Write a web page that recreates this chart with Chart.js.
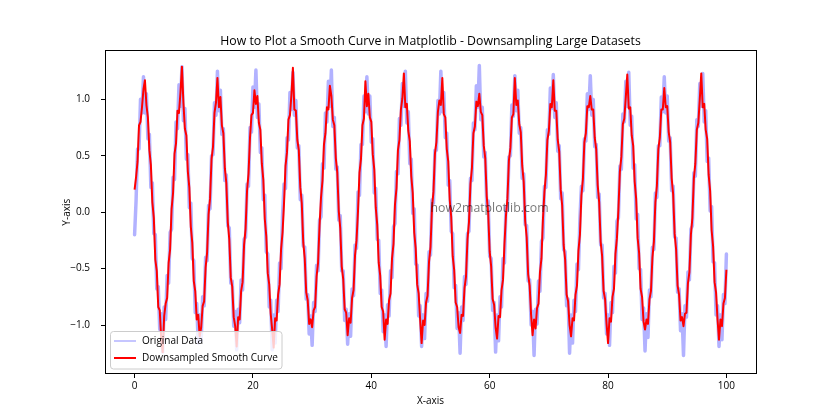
<!DOCTYPE html>
<html><head><meta charset="utf-8">
<script src="https://cdn.jsdelivr.net/npm/chart.js@4"></script>
<style>html,body{margin:0;padding:0;background:#fff}canvas{display:block}</style>
</head><body>
<canvas id="c" width="840" height="420"></canvas>
<script>
// sample grid of both series (x from 0 to 100)
const xStart = 0, xStep = 0.25;

const originalY = [
-0.20,0.10,0.56,0.56,1.00,0.88,1.20,0.88,1.05,0.65,0.69,0.22,0.26,-0.19,-0.20,-0.68,-0.66,-1.04,-0.90,-1.24,-0.84,-0.95,-0.56,-0.63,-0.18,
-0.15,0.31,0.29,0.80,0.74,1.13,0.94,1.29,0.81,0.92,0.47,0.51,0.04,0.08,-0.41,-0.43,-0.89,-0.81,-1.16,-0.91,-1.14,-0.75,-0.83,-0.40,-0.43,
0.06,0.03,0.50,0.51,0.97,0.86,1.25,0.90,1.08,0.69,0.74,0.28,0.33,-0.12,-0.14,-0.63,-0.61,-1.01,-0.88,-1.22,-0.86,-0.98,-0.60,-0.69,-0.24,
-0.22,0.25,0.23,0.75,0.71,1.11,0.93,1.26,0.84,0.96,0.53,0.57,0.11,0.15,-0.35,-0.37,-0.84,-0.78,-1.22,-0.91,-1.16,-0.78,-0.88,-0.45,-0.50,-0.03,
0.25,0.21,0.66,0.64,1.06,0.91,1.24,0.86,0.99,0.57,0.59,0.11,0.15,-0.30,-0.31,-0.77,-0.73,-1.08,-0.92,-1.18,-0.80,-0.88,-0.47,-0.52,-0.07,
-0.04,0.43,0.39,0.88,0.80,1.16,0.94,1.26,0.76,0.84,0.38,0.40,-0.07,-0.03,-0.52,-0.52,-0.96,-0.86,-1.17,-0.90,-1.10,-0.68,-0.74,-0.29,-0.32,
0.18,0.15,0.60,0.60,1.03,0.89,1.20,0.87,1.03,0.62,0.65,0.17,0.21,-0.24,-0.25,-0.72,-0.69,-1.06,-0.91,-1.19,-0.82,-0.92,-0.52,-0.58,-0.13,
-0.10,0.36,0.34,0.83,0.77,1.14,0.94,1.25,0.79,0.89,0.43,0.47,-0.01,0.03,-0.46,-0.47,-0.92,-0.83,-1.19,-0.91,-1.12,-0.72,-0.79,-0.35,-0.38,
0.11,0.08,0.55,0.55,0.99,0.87,1.25,0.89,1.06,0.66,0.70,0.24,0.28,-0.17,-0.19,-0.67,-0.65,-1.03,-0.89,-1.25,-0.84,-0.96,-0.57,-0.64,-0.19,
-0.17,0.30,0.28,0.79,0.73,1.12,0.93,1.30,0.82,0.93,0.49,0.53,0.06,0.10,-0.39,-0.41,-0.87,-0.80,-1.24,-0.91,-1.14,-0.75,-0.84,-0.41,-0.45,
0.05,0.02,0.49,0.50,0.95,0.85,1.21,0.90,1.08,0.70,0.75,0.30,0.34,-0.11,-0.12,-0.61,-0.60,-1.00,-0.88,-1.27,-0.86,-0.99,-0.61,-0.70,-0.26,
-0.23,0.23,0.22,0.73,0.69,1.10,0.92,1.22,0.84,0.97,0.54,0.59,0.12,0.17,-0.33,-0.35,-0.83,-0.77,-1.25,-0.91,-1.16,-0.78,-0.88,-0.46,-0.51,-0.05,
0.23,0.19,0.65,0.63,1.05,0.91,1.21,0.86,1.00,0.58,0.60,0.13,0.16,-0.29,-0.29,-0.76,-0.72,-1.08,-0.91,-1.18,-0.80,-0.89,-0.48,-0.54,-0.08,
-0.05,0.41,0.38,0.87,0.80,1.16,0.94,1.24,0.77,0.85,0.39,0.42,-0.06,-0.02,-0.50,-0.51,-0.95,-0.85,-1.23,-0.90,-1.11,-0.69,-0.75,-0.31,-0.33,
0.17,0.13,0.59,0.59,1.02,0.89,1.20,0.88,1.03,0.63,0.66,0.19,0.23,-0.22,-0.23,-0.71,-0.68,-1.05,-0.90,-1.27,-0.83,-0.93,-0.53,-0.60,-0.15,
-0.12,0.35,0.32,0.82,0.76,1.14,0.94,1.23,0.80,0.90,0.45,0.48,0.01,0.05,-0.44,-0.45,-0.91,-0.83,-1.19,-0.91,-1.13,-0.73,-0.81,-0.37
];

const smoothY = [
0.20,0.31,0.45,0.77,0.80,0.93,1.09,1.17,0.95,0.84,0.55,0.42,0.09,-0.05,-0.42,-0.52,-0.84,-0.87,-1.12,-1.24,-0.92,-0.81,-0.76,-0.45,-0.33,
0.03,0.17,0.52,0.61,0.90,0.88,1.06,1.29,0.97,0.74,0.68,0.36,0.22,-0.13,-0.27,-0.61,-0.70,-0.95,-0.91,-1.10,-1.02,-0.83,-0.79,-0.49,-0.36,
-0.02,0.12,0.47,0.58,0.88,0.97,1.19,0.93,1.02,0.77,0.70,0.39,0.26,-0.09,-0.24,-0.58,-0.66,-0.93,-1.01,-1.19,-0.93,-0.95,-0.70,-0.62,-0.29,
-0.15,0.19,0.34,0.66,0.86,0.88,1.08,0.96,1.03,0.79,0.73,0.43,0.29,-0.06,-0.21,-0.54,-0.64,-0.90,-1.04,-1.20,-0.94,-0.96,-0.73,-0.64,-0.33,-0.18,
0.08,0.41,0.53,0.82,0.86,1.04,1.28,0.91,0.90,0.64,0.55,0.22,0.08,-0.27,-0.41,-0.71,-0.78,-0.99,-0.95,-1.02,-0.87,-0.84,-0.57,-0.45,-0.12,
0.13,0.28,0.60,0.70,0.93,0.91,1.12,1.03,0.82,0.77,0.48,0.35,0.01,-0.14,-0.48,-0.59,-0.86,-0.89,-1.09,-0.94,-0.98,-0.76,-0.69,-0.38,-0.25,
0.01,0.35,0.47,0.77,0.83,1.16,0.94,1.05,0.84,0.80,0.51,0.38,0.04,-0.11,-0.45,-0.56,-0.84,-0.88,-1.13,-0.95,-0.99,-0.78,-0.72,-0.41,-0.28,
0.07,0.21,0.55,0.64,0.91,1.01,1.23,0.93,0.96,0.72,0.63,0.32,0.17,-0.18,-0.32,-0.64,-0.72,-0.95,-1.16,-0.96,-1.00,-0.80,-0.74,-0.44,-0.31,
0.04,0.18,0.52,0.62,0.89,0.99,0.95,1.19,0.87,0.84,0.56,0.45,0.11,-0.04,-0.39,-0.51,-0.80,-0.84,-1.02,-1.07,-0.91,-0.92,-0.67,-0.57,-0.24,
-0.09,0.25,0.39,0.70,0.76,0.98,0.94,1.05,0.89,0.86,0.59,0.48,0.14,-0.01,-0.35,-0.48,-0.77,-0.82,-1.02,-1.12,-0.92,-0.93,-0.69,-0.60,-0.28,
-0.03,0.12,0.46,0.57,0.84,0.87,1.19,0.95,0.99,0.78,0.71,0.41,0.27,-0.08,-0.22,-0.55,-0.65,-0.91,-1.09,-0.95,-1.03,-0.85,-0.81,-0.53,-0.41,
-0.06,0.18,0.33,0.64,0.72,0.96,0.93,1.17,0.90,0.90,0.64,0.54,0.20,0.06,-0.29,-0.42,-0.73,-0.79,-1.00,-1.10,-0.94,-0.96,-0.73,-0.65,-0.34,-0.20,
0.15,0.29,0.62,0.70,0.94,0.93,1.03,0.91,0.91,0.66,0.56,0.24,0.09,-0.26,-0.39,-0.70,-0.77,-0.99,-1.16,-0.94,-0.97,-0.75,-0.68,-0.37,-0.23,
0.02,0.36,0.49,0.78,0.83,1.02,1.22,0.92,0.93,0.68,0.59,0.27,0.12,-0.23,-0.36,-0.68,-0.75,-0.97,-1.04,-0.95,-0.99,-0.77,-0.70,-0.40,-0.26,
0.09,0.23,0.56,0.66,0.91,0.91,1.10,0.93,0.94,0.71,0.62,0.30,0.16,-0.19,-0.33,-0.65,-0.73,-0.96,-0.93,-1.01,-0.90,-0.89,-0.63,-0.53,-0.20,
-0.05,0.30,0.43,0.73,0.79,1.00,1.23,0.93,0.96,0.73,0.65,0.33,0.19,-0.16,-0.30,-0.62,-0.71,-0.95,-1.13,-0.95,-1.01,-0.81,-0.76,-0.51
];

const seriesNames = ['Original Data', 'Downsampled Smooth Curve'];
const xTicks = [0, 20, 40, 60, 80, 100];
const xTickLabels = ['0', '20', '40', '60', '80', '100'];
const yTicks = [-1.0, -0.5, 0.0, 0.5, 1.0];
const yTickLabels = ['\u22121.0', '\u22120.5', '0.0', '0.5', '1.0'];
const titleText = 'How to Plot a Smooth Curve in Matplotlib - Downsampling Large Datasets';
const xTitle = 'X-axis';
const yTitle = 'Y-axis';
const watermark = 'how2matplotlib.com';

const FONT = "'Open Sans', 'Noto Sans', 'DejaVu Sans', sans-serif";
const BLUE = 'rgba(0,0,255,0.3)';
const RED = '#ff0000';

const toPoints = ys => ys.map((y, i) => ({ x: xStart + i * xStep, y: y }));

const framePlugin = {
  id: 'frame',
  afterDraw(chart) {
    const { ctx, chartArea: a } = chart;
    ctx.save();
    // title centred over the axes
    ctx.font = '12.3px ' + FONT;
    ctx.fillStyle = '#000';
    ctx.textAlign = 'center';
    ctx.textBaseline = 'middle';
    ctx.fillText(titleText, (a.left + a.right) / 2, 41);
    // watermark (axes centre, left aligned, baseline)
    ctx.font = '12.3px ' + FONT;
    ctx.fillStyle = 'rgba(0,0,0,0.55)';
    ctx.textAlign = 'left';
    ctx.textBaseline = 'alphabetic';
    ctx.fillText(watermark, (a.left + a.right) / 2, (a.top + a.bottom) / 2);
    // spines
    ctx.strokeStyle = '#000';
    ctx.lineWidth = 1;
    ctx.strokeRect(Math.round(a.left) + 0.5, Math.round(a.top) + 0.5,
      Math.round(a.right) - Math.round(a.left), Math.round(a.bottom) - Math.round(a.top) - 1);
    // legend
    const bx = a.left + 5.5, by = 331.5, bw = 171.5, bh = 37.5, r = 3;
    ctx.beginPath();
    ctx.moveTo(bx + r, by);
    ctx.lineTo(bx + bw - r, by); ctx.quadraticCurveTo(bx + bw, by, bx + bw, by + r);
    ctx.lineTo(bx + bw, by + bh - r); ctx.quadraticCurveTo(bx + bw, by + bh, bx + bw - r, by + bh);
    ctx.lineTo(bx + r, by + bh); ctx.quadraticCurveTo(bx, by + bh, bx, by + bh - r);
    ctx.lineTo(bx, by + r); ctx.quadraticCurveTo(bx, by, bx + r, by);
    ctx.closePath();
    ctx.fillStyle = 'rgba(255,255,255,0.8)';
    ctx.fill();
    ctx.strokeStyle = '#cccccc';
    ctx.stroke();
    const rows = [
      { name: seriesNames[0], color: BLUE, w: 1.5, y: 341 },
      { name: seriesNames[1], color: RED, w: 2, y: 358 }
    ];
    ctx.font = '10px ' + FONT;
    ctx.textBaseline = 'middle';
    for (const row of rows) {
      ctx.beginPath();
      ctx.strokeStyle = row.color;
      ctx.lineWidth = row.w;
      ctx.moveTo(bx + 3.5, row.y);
      ctx.lineTo(bx + 25.5, row.y);
      ctx.stroke();
      ctx.fillStyle = '#000';
      ctx.fillText(row.name, bx + 31.5, row.y);
    }
    ctx.restore();
  }
};

new Chart(document.getElementById('c'), {
  type: 'line',
  data: {
    datasets: [
      { label: seriesNames[0], data: toPoints(originalY), borderColor: BLUE, borderWidth: 3.5, order: 2,
        pointRadius: 0, tension: 0, borderJoinStyle: 'round', borderCapStyle: 'round' },
      { label: seriesNames[1], data: toPoints(smoothY), borderColor: RED, borderWidth: 2, order: 1,
        pointRadius: 0, tension: 0, borderJoinStyle: 'round' }
    ]
  },
  options: {
    responsive: false,
    animation: false,
    devicePixelRatio: 1,
    layout: { padding: { left: 0, right: 84, top: 50.4, bottom: 0 } },
    plugins: {
      legend: { display: false },
      tooltip: { enabled: false },
      title: { display: false }
    },
    scales: {
      x: {
        type: 'linear', min: -5, max: 105,
        afterBuildTicks: s => { s.ticks = xTicks.map(v => ({ value: v })); },
        afterFit: s => { s.height = 46; },
        grid: { display: true, drawOnChartArea: false, drawTicks: true, tickLength: 4, tickColor: '#000', color: '#000' },
        border: { display: false },
        ticks: {
          autoSkip: false, maxRotation: 0, padding: 2.5, color: '#000',
          font: { family: FONT, size: 10 },
          callback: v => xTickLabels[xTicks.indexOf(v)]
        },
        title: { display: true, text: xTitle, color: '#000', font: { family: FONT, size: 10, lineHeight: 1.2 },
          padding: { top: 0, bottom: 13 } }
      },
      y: {
        type: 'linear', min: -1.434, max: 1.434,
        afterBuildTicks: s => { s.ticks = yTicks.map(v => ({ value: v })); },
        afterFit: s => { s.width = 105; },
        grid: { display: true, drawOnChartArea: false, drawTicks: true, tickLength: 4, tickColor: '#000', color: '#000' },
        border: { display: false },
        ticks: {
          autoSkip: false, padding: 11, color: '#000',
          font: { family: FONT, size: 10 },
          callback: v => yTickLabels[yTicks.indexOf(v)]
        },
        title: { display: true, text: yTitle, color: '#000', font: { family: FONT, size: 10, lineHeight: 1.2 },
          padding: { top: 61.5, bottom: 0 } }
      }
    }
  },
  plugins: [framePlugin]
});
</script>
</body></html>
